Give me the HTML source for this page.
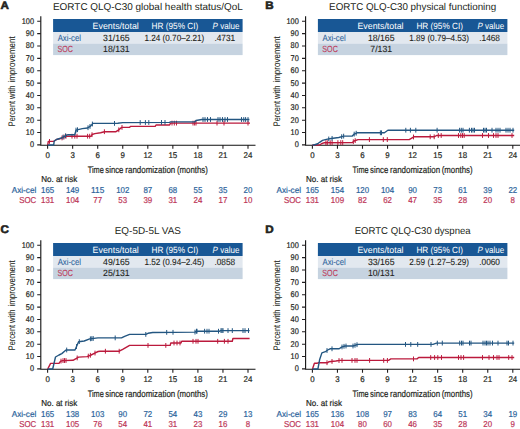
<!DOCTYPE html>
<html><head><meta charset="utf-8"><style>
html,body{margin:0;padding:0;background:#fff;width:520px;height:429px;overflow:hidden}
svg{display:block;font-family:"Liberation Sans",sans-serif;text-rendering:geometricPrecision}
</style></head><body>
<svg width="520" height="429" viewBox="0 0 520 429">
<rect width="520" height="429" fill="#fff"/>
<text x="0.40" y="9.30" font-size="11" fill="#231f20" stroke="#231f20" stroke-width="0.6" font-weight="bold" textLength="8.40" lengthAdjust="spacingAndGlyphs">A</text>
<text x="53.00" y="9.80" font-size="9.9" fill="#231f20" stroke="#231f20" stroke-width="0" font-weight="normal" textLength="189.70" lengthAdjust="spacingAndGlyphs">EORTC QLQ-C30 global health status/QoL</text>
<rect x="53.1" y="19.0" width="189.5" height="13.0" fill="#185795"/>
<rect x="53.1" y="32.0" width="189.5" height="11.6" fill="#e2e8ef"/>
<rect x="53.1" y="43.6" width="189.5" height="11.5" fill="#c6d3e0"/>
<text x="92.60" y="28.50" font-size="9" fill="#ffffff" stroke="#ffffff" stroke-width="0" font-weight="normal" textLength="46.20" lengthAdjust="spacingAndGlyphs">Events/total</text>
<text x="151.60" y="28.50" font-size="9" fill="#ffffff" stroke="#ffffff" stroke-width="0" font-weight="normal" textLength="46.60" lengthAdjust="spacingAndGlyphs">HR (95% CI)</text>
<text x="212.60" y="28.50" font-size="9" fill="#ffffff" textLength="26.8" lengthAdjust="spacingAndGlyphs"><tspan font-style="italic">P</tspan> value</text>
<text x="57.70" y="40.80" font-size="9" fill="#2e659c" stroke="#2e659c" stroke-width="0.1" font-weight="normal" textLength="23.30" lengthAdjust="spacingAndGlyphs">Axi-cel</text>
<text x="57.50" y="52.30" font-size="9" fill="#bd3658" stroke="#bd3658" stroke-width="0.1" font-weight="normal" textLength="15.50" lengthAdjust="spacingAndGlyphs">SOC</text>
<text x="103.10" y="40.80" font-size="9" fill="#231f20" stroke="#231f20" stroke-width="0.1" font-weight="normal" textLength="26.59" lengthAdjust="spacingAndGlyphs">31/165</text>
<text x="103.10" y="52.30" font-size="9" fill="#231f20" stroke="#231f20" stroke-width="0.1" font-weight="normal" textLength="26.59" lengthAdjust="spacingAndGlyphs">18/131</text>
<text x="144.51" y="40.80" font-size="9" fill="#231f20" stroke="#231f20" stroke-width="0.1" font-weight="normal" textLength="59.78" lengthAdjust="spacingAndGlyphs">1.24 (0.70–2.21)</text>
<text x="214.42" y="40.80" font-size="9" fill="#231f20" stroke="#231f20" stroke-width="0.1" font-weight="normal" textLength="20.77" lengthAdjust="spacingAndGlyphs">.4731</text>
<path d="M40.8 16.2V145.3H255.5" fill="none" stroke="#111" stroke-width="1.1"/>
<text x="29.90" y="147.30" font-size="8.3" fill="#231f20" stroke="#231f20" stroke-width="0.2" font-weight="normal" textLength="4.10" lengthAdjust="spacingAndGlyphs">0</text>
<text x="25.80" y="134.94" font-size="8.3" fill="#231f20" stroke="#231f20" stroke-width="0.2" font-weight="normal" textLength="8.20" lengthAdjust="spacingAndGlyphs">10</text>
<text x="25.80" y="122.58" font-size="8.3" fill="#231f20" stroke="#231f20" stroke-width="0.2" font-weight="normal" textLength="8.20" lengthAdjust="spacingAndGlyphs">20</text>
<text x="25.80" y="110.22" font-size="8.3" fill="#231f20" stroke="#231f20" stroke-width="0.2" font-weight="normal" textLength="8.20" lengthAdjust="spacingAndGlyphs">30</text>
<text x="25.80" y="97.86" font-size="8.3" fill="#231f20" stroke="#231f20" stroke-width="0.2" font-weight="normal" textLength="8.20" lengthAdjust="spacingAndGlyphs">40</text>
<text x="25.80" y="85.50" font-size="8.3" fill="#231f20" stroke="#231f20" stroke-width="0.2" font-weight="normal" textLength="8.20" lengthAdjust="spacingAndGlyphs">50</text>
<text x="25.80" y="73.14" font-size="8.3" fill="#231f20" stroke="#231f20" stroke-width="0.2" font-weight="normal" textLength="8.20" lengthAdjust="spacingAndGlyphs">60</text>
<text x="25.80" y="60.78" font-size="8.3" fill="#231f20" stroke="#231f20" stroke-width="0.2" font-weight="normal" textLength="8.20" lengthAdjust="spacingAndGlyphs">70</text>
<text x="25.80" y="48.42" font-size="8.3" fill="#231f20" stroke="#231f20" stroke-width="0.2" font-weight="normal" textLength="8.20" lengthAdjust="spacingAndGlyphs">80</text>
<text x="25.80" y="36.06" font-size="8.3" fill="#231f20" stroke="#231f20" stroke-width="0.2" font-weight="normal" textLength="8.20" lengthAdjust="spacingAndGlyphs">90</text>
<text x="21.70" y="23.70" font-size="8.3" fill="#231f20" stroke="#231f20" stroke-width="0.2" font-weight="normal" textLength="12.30" lengthAdjust="spacingAndGlyphs">100</text>
<text x="45.40" y="158.40" font-size="8.3" fill="#231f20" stroke="#231f20" stroke-width="0.2" font-weight="normal" textLength="4.40" lengthAdjust="spacingAndGlyphs">0</text>
<text x="70.45" y="158.40" font-size="8.3" fill="#231f20" stroke="#231f20" stroke-width="0.2" font-weight="normal" textLength="4.40" lengthAdjust="spacingAndGlyphs">3</text>
<text x="95.50" y="158.40" font-size="8.3" fill="#231f20" stroke="#231f20" stroke-width="0.2" font-weight="normal" textLength="4.40" lengthAdjust="spacingAndGlyphs">6</text>
<text x="120.55" y="158.40" font-size="8.3" fill="#231f20" stroke="#231f20" stroke-width="0.2" font-weight="normal" textLength="4.40" lengthAdjust="spacingAndGlyphs">9</text>
<text x="143.40" y="158.40" font-size="8.3" fill="#231f20" stroke="#231f20" stroke-width="0.2" font-weight="normal" textLength="8.80" lengthAdjust="spacingAndGlyphs">12</text>
<text x="168.45" y="158.40" font-size="8.3" fill="#231f20" stroke="#231f20" stroke-width="0.2" font-weight="normal" textLength="8.80" lengthAdjust="spacingAndGlyphs">15</text>
<text x="193.50" y="158.40" font-size="8.3" fill="#231f20" stroke="#231f20" stroke-width="0.2" font-weight="normal" textLength="8.80" lengthAdjust="spacingAndGlyphs">18</text>
<text x="218.55" y="158.40" font-size="8.3" fill="#231f20" stroke="#231f20" stroke-width="0.2" font-weight="normal" textLength="8.80" lengthAdjust="spacingAndGlyphs">21</text>
<text x="243.60" y="158.40" font-size="8.3" fill="#231f20" stroke="#231f20" stroke-width="0.2" font-weight="normal" textLength="8.80" lengthAdjust="spacingAndGlyphs">24</text>
<path d="M37.199999999999996 144.90H40.8 M37.199999999999996 132.54H40.8 M37.199999999999996 120.18H40.8 M37.199999999999996 107.82H40.8 M37.199999999999996 95.46H40.8 M37.199999999999996 83.10H40.8 M37.199999999999996 70.74H40.8 M37.199999999999996 58.38H40.8 M37.199999999999996 46.02H40.8 M37.199999999999996 33.66H40.8 M37.199999999999996 21.30H40.8 M47.60 144.9V148.8 M72.65 144.9V148.8 M97.70 144.9V148.8 M122.75 144.9V148.8 M147.80 144.9V148.8 M172.85 144.9V148.8 M197.90 144.9V148.8 M222.95 144.9V148.8 M248.00 144.9V148.8" fill="none" stroke="#231f20" stroke-width="1.1"/>
<text x="87.80" y="172.50" font-size="9.5" fill="#231f20" stroke="#231f20" stroke-width="0.2" font-weight="normal" textLength="16.00" lengthAdjust="spacingAndGlyphs">Time</text>
<text x="105.30" y="172.50" font-size="9.5" fill="#231f20" stroke="#231f20" stroke-width="0.2" font-weight="normal" textLength="18.10" lengthAdjust="spacingAndGlyphs">since</text>
<text x="125.30" y="172.50" font-size="9.5" fill="#231f20" stroke="#231f20" stroke-width="0.2" font-weight="normal" textLength="50.00" lengthAdjust="spacingAndGlyphs">randomization</text>
<text x="176.95" y="172.50" font-size="9.5" fill="#231f20" stroke="#231f20" stroke-width="0.2" font-weight="normal" textLength="30.85" lengthAdjust="spacingAndGlyphs">(months)</text>
<g transform="translate(14.90 0) rotate(-90)">
<text x="-126.20" y="0.00" font-size="9.5" fill="#231f20" stroke="#231f20" stroke-width="0.05" font-weight="normal" textLength="25.20" lengthAdjust="spacingAndGlyphs">Percent</text>
<text x="-98.90" y="0.00" font-size="9.5" fill="#231f20" stroke="#231f20" stroke-width="0.05" font-weight="normal" textLength="13.40" lengthAdjust="spacingAndGlyphs">with</text>
<text x="-82.60" y="0.00" font-size="9.5" fill="#231f20" stroke="#231f20" stroke-width="0.05" font-weight="normal" textLength="46.30" lengthAdjust="spacingAndGlyphs">improvement</text>
</g>
<text x="41.20" y="182.30" font-size="8.6" fill="#231f20" stroke="#231f20" stroke-width="0.2" font-weight="normal" textLength="36.10" lengthAdjust="spacingAndGlyphs">No. at risk</text>
<text x="11.70" y="192.80" font-size="8.6" fill="#2e659c" stroke="#2e659c" stroke-width="0.2" font-weight="normal" textLength="24.60" lengthAdjust="spacingAndGlyphs">Axi-cel</text>
<text x="19.20" y="203.00" font-size="8.6" fill="#bd3658" stroke="#bd3658" stroke-width="0.2" font-weight="normal" textLength="17.00" lengthAdjust="spacingAndGlyphs">SOC</text>
<text x="41.00" y="192.80" font-size="8.6" fill="#2e659c" stroke="#2e659c" stroke-width="0.2" font-weight="normal" textLength="13.20" lengthAdjust="spacingAndGlyphs">165</text>
<text x="41.00" y="203.00" font-size="8.6" fill="#bd3658" stroke="#bd3658" stroke-width="0.2" font-weight="normal" textLength="13.20" lengthAdjust="spacingAndGlyphs">131</text>
<text x="66.05" y="192.80" font-size="8.6" fill="#2e659c" stroke="#2e659c" stroke-width="0.2" font-weight="normal" textLength="13.20" lengthAdjust="spacingAndGlyphs">149</text>
<text x="66.05" y="203.00" font-size="8.6" fill="#bd3658" stroke="#bd3658" stroke-width="0.2" font-weight="normal" textLength="13.20" lengthAdjust="spacingAndGlyphs">104</text>
<text x="91.10" y="192.80" font-size="8.6" fill="#2e659c" stroke="#2e659c" stroke-width="0.2" font-weight="normal" textLength="13.20" lengthAdjust="spacingAndGlyphs">115</text>
<text x="93.30" y="203.00" font-size="8.6" fill="#bd3658" stroke="#bd3658" stroke-width="0.2" font-weight="normal" textLength="8.80" lengthAdjust="spacingAndGlyphs">77</text>
<text x="116.15" y="192.80" font-size="8.6" fill="#2e659c" stroke="#2e659c" stroke-width="0.2" font-weight="normal" textLength="13.20" lengthAdjust="spacingAndGlyphs">102</text>
<text x="118.35" y="203.00" font-size="8.6" fill="#bd3658" stroke="#bd3658" stroke-width="0.2" font-weight="normal" textLength="8.80" lengthAdjust="spacingAndGlyphs">53</text>
<text x="143.40" y="192.80" font-size="8.6" fill="#2e659c" stroke="#2e659c" stroke-width="0.2" font-weight="normal" textLength="8.80" lengthAdjust="spacingAndGlyphs">87</text>
<text x="143.40" y="203.00" font-size="8.6" fill="#bd3658" stroke="#bd3658" stroke-width="0.2" font-weight="normal" textLength="8.80" lengthAdjust="spacingAndGlyphs">39</text>
<text x="168.45" y="192.80" font-size="8.6" fill="#2e659c" stroke="#2e659c" stroke-width="0.2" font-weight="normal" textLength="8.80" lengthAdjust="spacingAndGlyphs">68</text>
<text x="168.45" y="203.00" font-size="8.6" fill="#bd3658" stroke="#bd3658" stroke-width="0.2" font-weight="normal" textLength="8.80" lengthAdjust="spacingAndGlyphs">31</text>
<text x="193.50" y="192.80" font-size="8.6" fill="#2e659c" stroke="#2e659c" stroke-width="0.2" font-weight="normal" textLength="8.80" lengthAdjust="spacingAndGlyphs">55</text>
<text x="193.50" y="203.00" font-size="8.6" fill="#bd3658" stroke="#bd3658" stroke-width="0.2" font-weight="normal" textLength="8.80" lengthAdjust="spacingAndGlyphs">24</text>
<text x="218.55" y="192.80" font-size="8.6" fill="#2e659c" stroke="#2e659c" stroke-width="0.2" font-weight="normal" textLength="8.80" lengthAdjust="spacingAndGlyphs">35</text>
<text x="218.55" y="203.00" font-size="8.6" fill="#bd3658" stroke="#bd3658" stroke-width="0.2" font-weight="normal" textLength="8.80" lengthAdjust="spacingAndGlyphs">17</text>
<text x="243.60" y="192.80" font-size="8.6" fill="#2e659c" stroke="#2e659c" stroke-width="0.2" font-weight="normal" textLength="8.80" lengthAdjust="spacingAndGlyphs">20</text>
<text x="243.60" y="203.00" font-size="8.6" fill="#bd3658" stroke="#bd3658" stroke-width="0.2" font-weight="normal" textLength="8.80" lengthAdjust="spacingAndGlyphs">10</text>
<path d="M47.70 145.00 L48.30 141.40 L53.70 141.40 L56.50 139.50 L60.40 138.60 L62.80 137.60 L65.70 136.20 L91.20 136.20 L92.10 134.50 L94.80 133.60 L100.60 132.70 L104.40 131.70 L116.00 131.70 L118.80 129.80 L121.70 127.40 L129.40 127.40 L130.40 126.40 L155.20 126.40 L156.00 125.00 L169.60 125.00 L170.50 123.10 L250.00 123.10" fill="none" stroke="#bb1a3c" stroke-width="1.4" stroke-linejoin="round"/>
<path d="M49.50 139.00V143.80 M62.00 135.53V140.33 M64.00 134.62V139.42 M66.00 133.80V138.60 M72.00 133.80V138.60 M74.80 133.80V138.60 M77.00 133.80V138.60 M87.60 133.80V138.60 M89.70 133.80V138.60 M92.00 132.29V137.09 M104.40 129.30V134.10 M118.80 127.40V132.20 M122.00 125.00V129.80 M172.00 120.70V125.50 M174.30 120.70V125.50 M176.50 120.70V125.50 M193.00 120.70V125.50 M194.60 120.70V125.50 M196.00 120.70V125.50 M217.00 120.70V125.50 M224.00 120.70V125.50 M248.00 120.70V125.50" fill="none" stroke="#bb1a3c" stroke-width="1.0"/>
<path d="M47.70 145.00 L53.70 145.00 L54.20 141.00 L56.50 139.50 L61.30 138.00 L65.70 135.70 L68.00 134.70 L74.80 134.70 L76.00 130.10 L82.30 128.60 L87.60 128.00 L90.80 125.90 L92.90 123.40 L115.00 123.40 L117.80 123.30 L122.70 122.60 L169.60 122.40 L170.50 121.90 L195.00 121.90 L196.00 120.50 L201.90 119.50 L249.40 119.50" fill="none" stroke="#235681" stroke-width="1.4" stroke-linejoin="round"/>
<path d="M63.00 134.71V139.51 M65.50 133.40V138.20 M76.00 127.70V132.50 M77.50 127.34V132.14 M88.00 125.34V130.14 M90.00 124.02V128.82 M92.40 121.60V126.40 M114.50 121.00V125.80 M140.20 120.13V124.93 M145.40 120.10V124.90 M148.80 120.09V124.89 M161.50 120.03V124.83 M165.00 120.02V124.82 M203.00 117.10V121.90 M205.00 117.10V121.90 M207.50 117.10V121.90 M210.50 117.10V121.90 M218.00 117.10V121.90 M220.00 117.10V121.90 M222.50 117.10V121.90 M225.00 117.10V121.90 M227.50 117.10V121.90 M241.50 117.10V121.90 M243.75 117.10V121.90 M245.60 117.10V121.90 M248.00 117.10V121.90" fill="none" stroke="#235681" stroke-width="1.0"/>
<text x="265.20" y="9.30" font-size="11" fill="#231f20" stroke="#231f20" stroke-width="0.6" font-weight="bold" textLength="8.40" lengthAdjust="spacingAndGlyphs">B</text>
<text x="329.10" y="9.80" font-size="9.9" fill="#231f20" stroke="#231f20" stroke-width="0" font-weight="normal" textLength="167.10" lengthAdjust="spacingAndGlyphs">EORTC QLQ-C30 physical functioning</text>
<rect x="317.90000000000003" y="19.0" width="189.5" height="13.0" fill="#185795"/>
<rect x="317.90000000000003" y="32.0" width="189.5" height="11.6" fill="#e2e8ef"/>
<rect x="317.90000000000003" y="43.6" width="189.5" height="11.5" fill="#c6d3e0"/>
<text x="357.40" y="28.50" font-size="9" fill="#ffffff" stroke="#ffffff" stroke-width="0" font-weight="normal" textLength="46.20" lengthAdjust="spacingAndGlyphs">Events/total</text>
<text x="416.40" y="28.50" font-size="9" fill="#ffffff" stroke="#ffffff" stroke-width="0" font-weight="normal" textLength="46.60" lengthAdjust="spacingAndGlyphs">HR (95% CI)</text>
<text x="477.40" y="28.50" font-size="9" fill="#ffffff" textLength="26.8" lengthAdjust="spacingAndGlyphs"><tspan font-style="italic">P</tspan> value</text>
<text x="322.50" y="40.80" font-size="9" fill="#2e659c" stroke="#2e659c" stroke-width="0.1" font-weight="normal" textLength="23.30" lengthAdjust="spacingAndGlyphs">Axi-cel</text>
<text x="322.30" y="52.30" font-size="9" fill="#bd3658" stroke="#bd3658" stroke-width="0.1" font-weight="normal" textLength="15.50" lengthAdjust="spacingAndGlyphs">SOC</text>
<text x="367.90" y="40.80" font-size="9" fill="#231f20" stroke="#231f20" stroke-width="0.1" font-weight="normal" textLength="26.59" lengthAdjust="spacingAndGlyphs">18/165</text>
<text x="370.32" y="52.30" font-size="9" fill="#231f20" stroke="#231f20" stroke-width="0.1" font-weight="normal" textLength="21.76" lengthAdjust="spacingAndGlyphs">7/131</text>
<text x="409.31" y="40.80" font-size="9" fill="#231f20" stroke="#231f20" stroke-width="0.1" font-weight="normal" textLength="59.78" lengthAdjust="spacingAndGlyphs">1.89 (0.79–4.53)</text>
<text x="479.22" y="40.80" font-size="9" fill="#231f20" stroke="#231f20" stroke-width="0.1" font-weight="normal" textLength="20.77" lengthAdjust="spacingAndGlyphs">.1468</text>
<path d="M305.6 16.2V145.3H520.3" fill="none" stroke="#111" stroke-width="1.1"/>
<text x="294.70" y="147.30" font-size="8.3" fill="#231f20" stroke="#231f20" stroke-width="0.2" font-weight="normal" textLength="4.10" lengthAdjust="spacingAndGlyphs">0</text>
<text x="290.60" y="134.94" font-size="8.3" fill="#231f20" stroke="#231f20" stroke-width="0.2" font-weight="normal" textLength="8.20" lengthAdjust="spacingAndGlyphs">10</text>
<text x="290.60" y="122.58" font-size="8.3" fill="#231f20" stroke="#231f20" stroke-width="0.2" font-weight="normal" textLength="8.20" lengthAdjust="spacingAndGlyphs">20</text>
<text x="290.60" y="110.22" font-size="8.3" fill="#231f20" stroke="#231f20" stroke-width="0.2" font-weight="normal" textLength="8.20" lengthAdjust="spacingAndGlyphs">30</text>
<text x="290.60" y="97.86" font-size="8.3" fill="#231f20" stroke="#231f20" stroke-width="0.2" font-weight="normal" textLength="8.20" lengthAdjust="spacingAndGlyphs">40</text>
<text x="290.60" y="85.50" font-size="8.3" fill="#231f20" stroke="#231f20" stroke-width="0.2" font-weight="normal" textLength="8.20" lengthAdjust="spacingAndGlyphs">50</text>
<text x="290.60" y="73.14" font-size="8.3" fill="#231f20" stroke="#231f20" stroke-width="0.2" font-weight="normal" textLength="8.20" lengthAdjust="spacingAndGlyphs">60</text>
<text x="290.60" y="60.78" font-size="8.3" fill="#231f20" stroke="#231f20" stroke-width="0.2" font-weight="normal" textLength="8.20" lengthAdjust="spacingAndGlyphs">70</text>
<text x="290.60" y="48.42" font-size="8.3" fill="#231f20" stroke="#231f20" stroke-width="0.2" font-weight="normal" textLength="8.20" lengthAdjust="spacingAndGlyphs">80</text>
<text x="290.60" y="36.06" font-size="8.3" fill="#231f20" stroke="#231f20" stroke-width="0.2" font-weight="normal" textLength="8.20" lengthAdjust="spacingAndGlyphs">90</text>
<text x="286.50" y="23.70" font-size="8.3" fill="#231f20" stroke="#231f20" stroke-width="0.2" font-weight="normal" textLength="12.30" lengthAdjust="spacingAndGlyphs">100</text>
<text x="310.20" y="158.40" font-size="8.3" fill="#231f20" stroke="#231f20" stroke-width="0.2" font-weight="normal" textLength="4.40" lengthAdjust="spacingAndGlyphs">0</text>
<text x="335.25" y="158.40" font-size="8.3" fill="#231f20" stroke="#231f20" stroke-width="0.2" font-weight="normal" textLength="4.40" lengthAdjust="spacingAndGlyphs">3</text>
<text x="360.30" y="158.40" font-size="8.3" fill="#231f20" stroke="#231f20" stroke-width="0.2" font-weight="normal" textLength="4.40" lengthAdjust="spacingAndGlyphs">6</text>
<text x="385.35" y="158.40" font-size="8.3" fill="#231f20" stroke="#231f20" stroke-width="0.2" font-weight="normal" textLength="4.40" lengthAdjust="spacingAndGlyphs">9</text>
<text x="408.20" y="158.40" font-size="8.3" fill="#231f20" stroke="#231f20" stroke-width="0.2" font-weight="normal" textLength="8.80" lengthAdjust="spacingAndGlyphs">12</text>
<text x="433.25" y="158.40" font-size="8.3" fill="#231f20" stroke="#231f20" stroke-width="0.2" font-weight="normal" textLength="8.80" lengthAdjust="spacingAndGlyphs">15</text>
<text x="458.30" y="158.40" font-size="8.3" fill="#231f20" stroke="#231f20" stroke-width="0.2" font-weight="normal" textLength="8.80" lengthAdjust="spacingAndGlyphs">18</text>
<text x="483.35" y="158.40" font-size="8.3" fill="#231f20" stroke="#231f20" stroke-width="0.2" font-weight="normal" textLength="8.80" lengthAdjust="spacingAndGlyphs">21</text>
<text x="508.40" y="158.40" font-size="8.3" fill="#231f20" stroke="#231f20" stroke-width="0.2" font-weight="normal" textLength="8.80" lengthAdjust="spacingAndGlyphs">24</text>
<path d="M302.0 144.90H305.6 M302.0 132.54H305.6 M302.0 120.18H305.6 M302.0 107.82H305.6 M302.0 95.46H305.6 M302.0 83.10H305.6 M302.0 70.74H305.6 M302.0 58.38H305.6 M302.0 46.02H305.6 M302.0 33.66H305.6 M302.0 21.30H305.6 M312.40 144.9V148.8 M337.45 144.9V148.8 M362.50 144.9V148.8 M387.55 144.9V148.8 M412.60 144.9V148.8 M437.65 144.9V148.8 M462.70 144.9V148.8 M487.75 144.9V148.8 M512.80 144.9V148.8" fill="none" stroke="#231f20" stroke-width="1.1"/>
<text x="352.60" y="172.50" font-size="9.5" fill="#231f20" stroke="#231f20" stroke-width="0.2" font-weight="normal" textLength="16.00" lengthAdjust="spacingAndGlyphs">Time</text>
<text x="370.10" y="172.50" font-size="9.5" fill="#231f20" stroke="#231f20" stroke-width="0.2" font-weight="normal" textLength="18.10" lengthAdjust="spacingAndGlyphs">since</text>
<text x="390.10" y="172.50" font-size="9.5" fill="#231f20" stroke="#231f20" stroke-width="0.2" font-weight="normal" textLength="50.00" lengthAdjust="spacingAndGlyphs">randomization</text>
<text x="441.75" y="172.50" font-size="9.5" fill="#231f20" stroke="#231f20" stroke-width="0.2" font-weight="normal" textLength="30.85" lengthAdjust="spacingAndGlyphs">(months)</text>
<g transform="translate(279.70 0) rotate(-90)">
<text x="-126.20" y="0.00" font-size="9.5" fill="#231f20" stroke="#231f20" stroke-width="0.05" font-weight="normal" textLength="25.20" lengthAdjust="spacingAndGlyphs">Percent</text>
<text x="-98.90" y="0.00" font-size="9.5" fill="#231f20" stroke="#231f20" stroke-width="0.05" font-weight="normal" textLength="13.40" lengthAdjust="spacingAndGlyphs">with</text>
<text x="-82.60" y="0.00" font-size="9.5" fill="#231f20" stroke="#231f20" stroke-width="0.05" font-weight="normal" textLength="46.30" lengthAdjust="spacingAndGlyphs">improvement</text>
</g>
<text x="306.00" y="182.30" font-size="8.6" fill="#231f20" stroke="#231f20" stroke-width="0.2" font-weight="normal" textLength="36.10" lengthAdjust="spacingAndGlyphs">No. at risk</text>
<text x="276.50" y="192.80" font-size="8.6" fill="#2e659c" stroke="#2e659c" stroke-width="0.2" font-weight="normal" textLength="24.60" lengthAdjust="spacingAndGlyphs">Axi-cel</text>
<text x="284.00" y="203.00" font-size="8.6" fill="#bd3658" stroke="#bd3658" stroke-width="0.2" font-weight="normal" textLength="17.00" lengthAdjust="spacingAndGlyphs">SOC</text>
<text x="305.80" y="192.80" font-size="8.6" fill="#2e659c" stroke="#2e659c" stroke-width="0.2" font-weight="normal" textLength="13.20" lengthAdjust="spacingAndGlyphs">165</text>
<text x="305.80" y="203.00" font-size="8.6" fill="#bd3658" stroke="#bd3658" stroke-width="0.2" font-weight="normal" textLength="13.20" lengthAdjust="spacingAndGlyphs">131</text>
<text x="330.85" y="192.80" font-size="8.6" fill="#2e659c" stroke="#2e659c" stroke-width="0.2" font-weight="normal" textLength="13.20" lengthAdjust="spacingAndGlyphs">154</text>
<text x="330.85" y="203.00" font-size="8.6" fill="#bd3658" stroke="#bd3658" stroke-width="0.2" font-weight="normal" textLength="13.20" lengthAdjust="spacingAndGlyphs">109</text>
<text x="355.90" y="192.80" font-size="8.6" fill="#2e659c" stroke="#2e659c" stroke-width="0.2" font-weight="normal" textLength="13.20" lengthAdjust="spacingAndGlyphs">120</text>
<text x="358.10" y="203.00" font-size="8.6" fill="#bd3658" stroke="#bd3658" stroke-width="0.2" font-weight="normal" textLength="8.80" lengthAdjust="spacingAndGlyphs">82</text>
<text x="380.95" y="192.80" font-size="8.6" fill="#2e659c" stroke="#2e659c" stroke-width="0.2" font-weight="normal" textLength="13.20" lengthAdjust="spacingAndGlyphs">104</text>
<text x="383.15" y="203.00" font-size="8.6" fill="#bd3658" stroke="#bd3658" stroke-width="0.2" font-weight="normal" textLength="8.80" lengthAdjust="spacingAndGlyphs">62</text>
<text x="408.20" y="192.80" font-size="8.6" fill="#2e659c" stroke="#2e659c" stroke-width="0.2" font-weight="normal" textLength="8.80" lengthAdjust="spacingAndGlyphs">90</text>
<text x="408.20" y="203.00" font-size="8.6" fill="#bd3658" stroke="#bd3658" stroke-width="0.2" font-weight="normal" textLength="8.80" lengthAdjust="spacingAndGlyphs">47</text>
<text x="433.25" y="192.80" font-size="8.6" fill="#2e659c" stroke="#2e659c" stroke-width="0.2" font-weight="normal" textLength="8.80" lengthAdjust="spacingAndGlyphs">73</text>
<text x="433.25" y="203.00" font-size="8.6" fill="#bd3658" stroke="#bd3658" stroke-width="0.2" font-weight="normal" textLength="8.80" lengthAdjust="spacingAndGlyphs">35</text>
<text x="458.30" y="192.80" font-size="8.6" fill="#2e659c" stroke="#2e659c" stroke-width="0.2" font-weight="normal" textLength="8.80" lengthAdjust="spacingAndGlyphs">61</text>
<text x="458.30" y="203.00" font-size="8.6" fill="#bd3658" stroke="#bd3658" stroke-width="0.2" font-weight="normal" textLength="8.80" lengthAdjust="spacingAndGlyphs">28</text>
<text x="483.35" y="192.80" font-size="8.6" fill="#2e659c" stroke="#2e659c" stroke-width="0.2" font-weight="normal" textLength="8.80" lengthAdjust="spacingAndGlyphs">39</text>
<text x="483.35" y="203.00" font-size="8.6" fill="#bd3658" stroke="#bd3658" stroke-width="0.2" font-weight="normal" textLength="8.80" lengthAdjust="spacingAndGlyphs">20</text>
<text x="508.40" y="192.80" font-size="8.6" fill="#2e659c" stroke="#2e659c" stroke-width="0.2" font-weight="normal" textLength="8.80" lengthAdjust="spacingAndGlyphs">22</text>
<text x="510.60" y="203.00" font-size="8.6" fill="#bd3658" stroke="#bd3658" stroke-width="0.2" font-weight="normal" textLength="4.40" lengthAdjust="spacingAndGlyphs">8</text>
<path d="M312.50 145.00 L319.60 145.00 L321.50 143.75 L324.40 142.70 L352.30 142.50 L354.20 141.00 L358.00 139.60 L409.20 139.60 L413.80 136.80 L434.20 136.80 L436.50 135.50 L514.20 135.50" fill="none" stroke="#bb1a3c" stroke-width="1.4" stroke-linejoin="round"/>
<path d="M325.90 140.29V145.09 M327.30 140.28V145.08 M330.20 140.26V145.06 M332.10 140.24V145.04 M337.90 140.20V145.00 M340.80 140.18V144.98 M342.70 140.17V144.97 M353.30 139.31V144.11 M355.20 138.23V143.03 M369.40 137.20V142.00 M383.30 137.20V142.00 M387.30 137.20V142.00 M413.50 134.58V139.38 M430.20 134.40V139.20 M434.20 134.40V139.20 M438.30 133.10V137.90 M441.20 133.10V137.90 M458.50 133.10V137.90 M460.80 133.10V137.90 M462.50 133.10V137.90 M464.20 133.10V137.90 M482.50 133.10V137.90 M488.50 133.10V137.90 M493.50 133.10V137.90 M496.00 133.10V137.90 M498.00 133.10V137.90 M512.00 133.10V137.90" fill="none" stroke="#bb1a3c" stroke-width="1.0"/>
<path d="M312.50 145.00 L314.00 145.00 L317.70 143.75 L319.60 142.30 L322.50 140.40 L326.30 139.40 L331.20 138.50 L335.00 138.00 L338.80 137.50 L343.70 136.10 L352.30 136.10 L354.20 134.10 L357.10 132.80 L384.40 132.80 L387.90 130.20 L514.20 130.20" fill="none" stroke="#235681" stroke-width="1.4" stroke-linejoin="round"/>
<path d="M328.75 136.55V141.35 M332.10 135.98V140.78 M341.70 134.27V139.07 M343.65 133.71V138.51 M354.20 131.70V136.50 M356.20 130.80V135.60 M380.40 130.40V135.20 M381.50 130.40V135.20 M405.80 127.80V132.60 M410.40 127.80V132.60 M415.80 127.80V132.60 M437.10 127.80V132.60 M459.60 127.80V132.60 M461.30 127.80V132.60 M463.00 127.80V132.60 M469.40 127.80V132.60 M471.50 127.80V132.60 M473.00 127.80V132.60 M474.50 127.80V132.60 M483.50 127.80V132.60 M485.00 127.80V132.60 M486.50 127.80V132.60 M492.00 127.80V132.60 M496.00 127.80V132.60 M498.00 127.80V132.60 M500.00 127.80V132.60 M506.00 127.80V132.60 M508.00 127.80V132.60 M510.00 127.80V132.60 M513.00 127.80V132.60" fill="none" stroke="#235681" stroke-width="1.0"/>
<text x="0.40" y="233.30" font-size="11" fill="#231f20" stroke="#231f20" stroke-width="0.6" font-weight="bold" textLength="8.40" lengthAdjust="spacingAndGlyphs">C</text>
<text x="114.74" y="233.80" font-size="9.9" fill="#231f20" stroke="#231f20" stroke-width="0" font-weight="normal" textLength="66.22" lengthAdjust="spacingAndGlyphs">EQ-5D-5L VAS</text>
<rect x="53.1" y="243.0" width="189.5" height="13.0" fill="#185795"/>
<rect x="53.1" y="256.0" width="189.5" height="11.6" fill="#e2e8ef"/>
<rect x="53.1" y="267.6" width="189.5" height="11.5" fill="#c6d3e0"/>
<text x="92.60" y="252.50" font-size="9" fill="#ffffff" stroke="#ffffff" stroke-width="0" font-weight="normal" textLength="46.20" lengthAdjust="spacingAndGlyphs">Events/total</text>
<text x="151.60" y="252.50" font-size="9" fill="#ffffff" stroke="#ffffff" stroke-width="0" font-weight="normal" textLength="46.60" lengthAdjust="spacingAndGlyphs">HR (95% CI)</text>
<text x="212.60" y="252.50" font-size="9" fill="#ffffff" textLength="26.8" lengthAdjust="spacingAndGlyphs"><tspan font-style="italic">P</tspan> value</text>
<text x="57.70" y="264.80" font-size="9" fill="#2e659c" stroke="#2e659c" stroke-width="0.1" font-weight="normal" textLength="23.30" lengthAdjust="spacingAndGlyphs">Axi-cel</text>
<text x="57.50" y="276.30" font-size="9" fill="#bd3658" stroke="#bd3658" stroke-width="0.1" font-weight="normal" textLength="15.50" lengthAdjust="spacingAndGlyphs">SOC</text>
<text x="103.10" y="264.80" font-size="9" fill="#231f20" stroke="#231f20" stroke-width="0.1" font-weight="normal" textLength="26.59" lengthAdjust="spacingAndGlyphs">49/165</text>
<text x="103.10" y="276.30" font-size="9" fill="#231f20" stroke="#231f20" stroke-width="0.1" font-weight="normal" textLength="26.59" lengthAdjust="spacingAndGlyphs">25/131</text>
<text x="144.51" y="264.80" font-size="9" fill="#231f20" stroke="#231f20" stroke-width="0.1" font-weight="normal" textLength="59.78" lengthAdjust="spacingAndGlyphs">1.52 (0.94–2.45)</text>
<text x="214.42" y="264.80" font-size="9" fill="#231f20" stroke="#231f20" stroke-width="0.1" font-weight="normal" textLength="20.77" lengthAdjust="spacingAndGlyphs">.0858</text>
<path d="M40.8 240.2V369.3H255.5" fill="none" stroke="#111" stroke-width="1.1"/>
<text x="29.90" y="371.30" font-size="8.3" fill="#231f20" stroke="#231f20" stroke-width="0.2" font-weight="normal" textLength="4.10" lengthAdjust="spacingAndGlyphs">0</text>
<text x="25.80" y="358.94" font-size="8.3" fill="#231f20" stroke="#231f20" stroke-width="0.2" font-weight="normal" textLength="8.20" lengthAdjust="spacingAndGlyphs">10</text>
<text x="25.80" y="346.58" font-size="8.3" fill="#231f20" stroke="#231f20" stroke-width="0.2" font-weight="normal" textLength="8.20" lengthAdjust="spacingAndGlyphs">20</text>
<text x="25.80" y="334.22" font-size="8.3" fill="#231f20" stroke="#231f20" stroke-width="0.2" font-weight="normal" textLength="8.20" lengthAdjust="spacingAndGlyphs">30</text>
<text x="25.80" y="321.86" font-size="8.3" fill="#231f20" stroke="#231f20" stroke-width="0.2" font-weight="normal" textLength="8.20" lengthAdjust="spacingAndGlyphs">40</text>
<text x="25.80" y="309.50" font-size="8.3" fill="#231f20" stroke="#231f20" stroke-width="0.2" font-weight="normal" textLength="8.20" lengthAdjust="spacingAndGlyphs">50</text>
<text x="25.80" y="297.14" font-size="8.3" fill="#231f20" stroke="#231f20" stroke-width="0.2" font-weight="normal" textLength="8.20" lengthAdjust="spacingAndGlyphs">60</text>
<text x="25.80" y="284.78" font-size="8.3" fill="#231f20" stroke="#231f20" stroke-width="0.2" font-weight="normal" textLength="8.20" lengthAdjust="spacingAndGlyphs">70</text>
<text x="25.80" y="272.42" font-size="8.3" fill="#231f20" stroke="#231f20" stroke-width="0.2" font-weight="normal" textLength="8.20" lengthAdjust="spacingAndGlyphs">80</text>
<text x="25.80" y="260.06" font-size="8.3" fill="#231f20" stroke="#231f20" stroke-width="0.2" font-weight="normal" textLength="8.20" lengthAdjust="spacingAndGlyphs">90</text>
<text x="21.70" y="247.70" font-size="8.3" fill="#231f20" stroke="#231f20" stroke-width="0.2" font-weight="normal" textLength="12.30" lengthAdjust="spacingAndGlyphs">100</text>
<text x="45.40" y="382.40" font-size="8.3" fill="#231f20" stroke="#231f20" stroke-width="0.2" font-weight="normal" textLength="4.40" lengthAdjust="spacingAndGlyphs">0</text>
<text x="70.45" y="382.40" font-size="8.3" fill="#231f20" stroke="#231f20" stroke-width="0.2" font-weight="normal" textLength="4.40" lengthAdjust="spacingAndGlyphs">3</text>
<text x="95.50" y="382.40" font-size="8.3" fill="#231f20" stroke="#231f20" stroke-width="0.2" font-weight="normal" textLength="4.40" lengthAdjust="spacingAndGlyphs">6</text>
<text x="120.55" y="382.40" font-size="8.3" fill="#231f20" stroke="#231f20" stroke-width="0.2" font-weight="normal" textLength="4.40" lengthAdjust="spacingAndGlyphs">9</text>
<text x="143.40" y="382.40" font-size="8.3" fill="#231f20" stroke="#231f20" stroke-width="0.2" font-weight="normal" textLength="8.80" lengthAdjust="spacingAndGlyphs">12</text>
<text x="168.45" y="382.40" font-size="8.3" fill="#231f20" stroke="#231f20" stroke-width="0.2" font-weight="normal" textLength="8.80" lengthAdjust="spacingAndGlyphs">15</text>
<text x="193.50" y="382.40" font-size="8.3" fill="#231f20" stroke="#231f20" stroke-width="0.2" font-weight="normal" textLength="8.80" lengthAdjust="spacingAndGlyphs">18</text>
<text x="218.55" y="382.40" font-size="8.3" fill="#231f20" stroke="#231f20" stroke-width="0.2" font-weight="normal" textLength="8.80" lengthAdjust="spacingAndGlyphs">21</text>
<text x="243.60" y="382.40" font-size="8.3" fill="#231f20" stroke="#231f20" stroke-width="0.2" font-weight="normal" textLength="8.80" lengthAdjust="spacingAndGlyphs">24</text>
<path d="M37.199999999999996 368.90H40.8 M37.199999999999996 356.54H40.8 M37.199999999999996 344.18H40.8 M37.199999999999996 331.82H40.8 M37.199999999999996 319.46H40.8 M37.199999999999996 307.10H40.8 M37.199999999999996 294.74H40.8 M37.199999999999996 282.38H40.8 M37.199999999999996 270.02H40.8 M37.199999999999996 257.66H40.8 M37.199999999999996 245.30H40.8 M47.60 368.9V372.8 M72.65 368.9V372.8 M97.70 368.9V372.8 M122.75 368.9V372.8 M147.80 368.9V372.8 M172.85 368.9V372.8 M197.90 368.9V372.8 M222.95 368.9V372.8 M248.00 368.9V372.8" fill="none" stroke="#231f20" stroke-width="1.1"/>
<text x="87.80" y="396.50" font-size="9.5" fill="#231f20" stroke="#231f20" stroke-width="0.2" font-weight="normal" textLength="16.00" lengthAdjust="spacingAndGlyphs">Time</text>
<text x="105.30" y="396.50" font-size="9.5" fill="#231f20" stroke="#231f20" stroke-width="0.2" font-weight="normal" textLength="18.10" lengthAdjust="spacingAndGlyphs">since</text>
<text x="125.30" y="396.50" font-size="9.5" fill="#231f20" stroke="#231f20" stroke-width="0.2" font-weight="normal" textLength="50.00" lengthAdjust="spacingAndGlyphs">randomization</text>
<text x="176.95" y="396.50" font-size="9.5" fill="#231f20" stroke="#231f20" stroke-width="0.2" font-weight="normal" textLength="30.85" lengthAdjust="spacingAndGlyphs">(months)</text>
<g transform="translate(14.90 0) rotate(-90)">
<text x="-350.20" y="0.00" font-size="9.5" fill="#231f20" stroke="#231f20" stroke-width="0.05" font-weight="normal" textLength="25.20" lengthAdjust="spacingAndGlyphs">Percent</text>
<text x="-322.90" y="0.00" font-size="9.5" fill="#231f20" stroke="#231f20" stroke-width="0.05" font-weight="normal" textLength="13.40" lengthAdjust="spacingAndGlyphs">with</text>
<text x="-306.60" y="0.00" font-size="9.5" fill="#231f20" stroke="#231f20" stroke-width="0.05" font-weight="normal" textLength="46.30" lengthAdjust="spacingAndGlyphs">improvement</text>
</g>
<text x="41.20" y="406.30" font-size="8.6" fill="#231f20" stroke="#231f20" stroke-width="0.2" font-weight="normal" textLength="36.10" lengthAdjust="spacingAndGlyphs">No. at risk</text>
<text x="11.70" y="416.80" font-size="8.6" fill="#2e659c" stroke="#2e659c" stroke-width="0.2" font-weight="normal" textLength="24.60" lengthAdjust="spacingAndGlyphs">Axi-cel</text>
<text x="19.20" y="427.00" font-size="8.6" fill="#bd3658" stroke="#bd3658" stroke-width="0.2" font-weight="normal" textLength="17.00" lengthAdjust="spacingAndGlyphs">SOC</text>
<text x="41.00" y="416.80" font-size="8.6" fill="#2e659c" stroke="#2e659c" stroke-width="0.2" font-weight="normal" textLength="13.20" lengthAdjust="spacingAndGlyphs">165</text>
<text x="41.00" y="427.00" font-size="8.6" fill="#bd3658" stroke="#bd3658" stroke-width="0.2" font-weight="normal" textLength="13.20" lengthAdjust="spacingAndGlyphs">131</text>
<text x="66.05" y="416.80" font-size="8.6" fill="#2e659c" stroke="#2e659c" stroke-width="0.2" font-weight="normal" textLength="13.20" lengthAdjust="spacingAndGlyphs">138</text>
<text x="66.05" y="427.00" font-size="8.6" fill="#bd3658" stroke="#bd3658" stroke-width="0.2" font-weight="normal" textLength="13.20" lengthAdjust="spacingAndGlyphs">105</text>
<text x="91.10" y="416.80" font-size="8.6" fill="#2e659c" stroke="#2e659c" stroke-width="0.2" font-weight="normal" textLength="13.20" lengthAdjust="spacingAndGlyphs">103</text>
<text x="93.30" y="427.00" font-size="8.6" fill="#bd3658" stroke="#bd3658" stroke-width="0.2" font-weight="normal" textLength="8.80" lengthAdjust="spacingAndGlyphs">76</text>
<text x="118.35" y="416.80" font-size="8.6" fill="#2e659c" stroke="#2e659c" stroke-width="0.2" font-weight="normal" textLength="8.80" lengthAdjust="spacingAndGlyphs">90</text>
<text x="118.35" y="427.00" font-size="8.6" fill="#bd3658" stroke="#bd3658" stroke-width="0.2" font-weight="normal" textLength="8.80" lengthAdjust="spacingAndGlyphs">54</text>
<text x="143.40" y="416.80" font-size="8.6" fill="#2e659c" stroke="#2e659c" stroke-width="0.2" font-weight="normal" textLength="8.80" lengthAdjust="spacingAndGlyphs">72</text>
<text x="143.40" y="427.00" font-size="8.6" fill="#bd3658" stroke="#bd3658" stroke-width="0.2" font-weight="normal" textLength="8.80" lengthAdjust="spacingAndGlyphs">41</text>
<text x="168.45" y="416.80" font-size="8.6" fill="#2e659c" stroke="#2e659c" stroke-width="0.2" font-weight="normal" textLength="8.80" lengthAdjust="spacingAndGlyphs">54</text>
<text x="168.45" y="427.00" font-size="8.6" fill="#bd3658" stroke="#bd3658" stroke-width="0.2" font-weight="normal" textLength="8.80" lengthAdjust="spacingAndGlyphs">31</text>
<text x="193.50" y="416.80" font-size="8.6" fill="#2e659c" stroke="#2e659c" stroke-width="0.2" font-weight="normal" textLength="8.80" lengthAdjust="spacingAndGlyphs">43</text>
<text x="193.50" y="427.00" font-size="8.6" fill="#bd3658" stroke="#bd3658" stroke-width="0.2" font-weight="normal" textLength="8.80" lengthAdjust="spacingAndGlyphs">23</text>
<text x="218.55" y="416.80" font-size="8.6" fill="#2e659c" stroke="#2e659c" stroke-width="0.2" font-weight="normal" textLength="8.80" lengthAdjust="spacingAndGlyphs">29</text>
<text x="218.55" y="427.00" font-size="8.6" fill="#bd3658" stroke="#bd3658" stroke-width="0.2" font-weight="normal" textLength="8.80" lengthAdjust="spacingAndGlyphs">16</text>
<text x="243.60" y="416.80" font-size="8.6" fill="#2e659c" stroke="#2e659c" stroke-width="0.2" font-weight="normal" textLength="8.80" lengthAdjust="spacingAndGlyphs">13</text>
<text x="245.80" y="427.00" font-size="8.6" fill="#bd3658" stroke="#bd3658" stroke-width="0.2" font-weight="normal" textLength="4.40" lengthAdjust="spacingAndGlyphs">8</text>
<path d="M47.70 369.00 L50.60 363.40 L59.00 363.40 L60.40 361.30 L62.50 360.60 L73.00 360.30 L78.60 357.10 L87.00 356.60 L91.10 355.00 L95.30 352.90 L98.10 351.50 L100.00 351.20 L119.20 351.20 L122.70 349.40 L129.60 345.40 L170.20 345.40 L170.80 343.00 L181.00 343.00 L181.70 341.30 L232.30 341.30 L232.90 338.50 L249.60 338.50" fill="none" stroke="#bb1a3c" stroke-width="1.4" stroke-linejoin="round"/>
<path d="M61.00 358.70V363.50 M63.00 358.19V362.99 M64.50 358.14V362.94 M66.00 358.10V362.90 M77.20 355.50V360.30 M88.30 353.69V358.49 M90.40 352.87V357.67 M95.00 350.65V355.45 M105.40 348.80V353.60 M119.20 348.80V353.60 M148.00 343.00V347.80 M165.80 343.00V347.80 M174.00 340.60V345.40 M177.00 340.60V345.40 M180.00 340.60V345.40 M193.00 338.90V343.70 M196.00 338.90V343.70 M198.00 338.90V343.70 M217.70 338.90V343.70 M224.40 338.90V343.70 M228.00 338.90V343.70" fill="none" stroke="#bb1a3c" stroke-width="1.0"/>
<path d="M47.70 369.00 L52.70 369.00 L55.50 357.00 L59.00 355.00 L61.80 353.60 L66.00 350.00 L75.00 350.00 L78.60 341.70 L84.20 341.00 L89.70 338.90 L98.00 337.90 L121.50 337.90 L124.60 336.30 L129.60 334.40 L145.80 334.40 L148.00 333.30 L152.70 332.50 L195.00 332.10 L196.20 331.20 L219.60 331.20 L220.80 330.60 L249.60 330.60" fill="none" stroke="#235681" stroke-width="1.4" stroke-linejoin="round"/>
<path d="M66.70 347.60V352.40 M76.50 344.14V348.94 M79.30 339.21V344.01 M90.40 336.42V341.22 M91.80 336.25V341.05 M93.20 336.08V340.88 M115.20 335.50V340.30 M145.80 332.00V336.80 M166.70 329.97V334.77 M173.00 329.91V334.71 M195.00 329.70V334.50 M196.50 328.80V333.60 M197.00 328.80V333.60 M204.60 328.80V333.60 M207.00 328.80V333.60 M209.00 328.80V333.60 M218.50 328.80V333.60 M221.00 328.20V333.00 M222.00 328.20V333.00 M223.00 328.20V333.00 M228.00 328.20V333.00 M232.30 328.20V333.00 M243.00 328.20V333.00 M245.00 328.20V333.00 M248.50 328.20V333.00" fill="none" stroke="#235681" stroke-width="1.0"/>
<text x="265.20" y="233.30" font-size="11" fill="#231f20" stroke="#231f20" stroke-width="0.6" font-weight="bold" textLength="8.40" lengthAdjust="spacingAndGlyphs">D</text>
<text x="354.65" y="233.80" font-size="9.9" fill="#231f20" stroke="#231f20" stroke-width="0" font-weight="normal" textLength="116.00" lengthAdjust="spacingAndGlyphs">EORTC QLQ-C30 dyspnea</text>
<rect x="317.90000000000003" y="243.0" width="189.5" height="13.0" fill="#185795"/>
<rect x="317.90000000000003" y="256.0" width="189.5" height="11.6" fill="#e2e8ef"/>
<rect x="317.90000000000003" y="267.6" width="189.5" height="11.5" fill="#c6d3e0"/>
<text x="357.40" y="252.50" font-size="9" fill="#ffffff" stroke="#ffffff" stroke-width="0" font-weight="normal" textLength="46.20" lengthAdjust="spacingAndGlyphs">Events/total</text>
<text x="416.40" y="252.50" font-size="9" fill="#ffffff" stroke="#ffffff" stroke-width="0" font-weight="normal" textLength="46.60" lengthAdjust="spacingAndGlyphs">HR (95% CI)</text>
<text x="477.40" y="252.50" font-size="9" fill="#ffffff" textLength="26.8" lengthAdjust="spacingAndGlyphs"><tspan font-style="italic">P</tspan> value</text>
<text x="322.50" y="264.80" font-size="9" fill="#2e659c" stroke="#2e659c" stroke-width="0.1" font-weight="normal" textLength="23.30" lengthAdjust="spacingAndGlyphs">Axi-cel</text>
<text x="322.30" y="276.30" font-size="9" fill="#bd3658" stroke="#bd3658" stroke-width="0.1" font-weight="normal" textLength="15.50" lengthAdjust="spacingAndGlyphs">SOC</text>
<text x="367.90" y="264.80" font-size="9" fill="#231f20" stroke="#231f20" stroke-width="0.1" font-weight="normal" textLength="26.59" lengthAdjust="spacingAndGlyphs">33/165</text>
<text x="367.90" y="276.30" font-size="9" fill="#231f20" stroke="#231f20" stroke-width="0.1" font-weight="normal" textLength="26.59" lengthAdjust="spacingAndGlyphs">10/131</text>
<text x="409.31" y="264.80" font-size="9" fill="#231f20" stroke="#231f20" stroke-width="0.1" font-weight="normal" textLength="59.78" lengthAdjust="spacingAndGlyphs">2.59 (1.27–5.29)</text>
<text x="479.22" y="264.80" font-size="9" fill="#231f20" stroke="#231f20" stroke-width="0.1" font-weight="normal" textLength="20.77" lengthAdjust="spacingAndGlyphs">.0060</text>
<path d="M305.6 240.2V369.3H520.3" fill="none" stroke="#111" stroke-width="1.1"/>
<text x="294.70" y="371.30" font-size="8.3" fill="#231f20" stroke="#231f20" stroke-width="0.2" font-weight="normal" textLength="4.10" lengthAdjust="spacingAndGlyphs">0</text>
<text x="290.60" y="358.94" font-size="8.3" fill="#231f20" stroke="#231f20" stroke-width="0.2" font-weight="normal" textLength="8.20" lengthAdjust="spacingAndGlyphs">10</text>
<text x="290.60" y="346.58" font-size="8.3" fill="#231f20" stroke="#231f20" stroke-width="0.2" font-weight="normal" textLength="8.20" lengthAdjust="spacingAndGlyphs">20</text>
<text x="290.60" y="334.22" font-size="8.3" fill="#231f20" stroke="#231f20" stroke-width="0.2" font-weight="normal" textLength="8.20" lengthAdjust="spacingAndGlyphs">30</text>
<text x="290.60" y="321.86" font-size="8.3" fill="#231f20" stroke="#231f20" stroke-width="0.2" font-weight="normal" textLength="8.20" lengthAdjust="spacingAndGlyphs">40</text>
<text x="290.60" y="309.50" font-size="8.3" fill="#231f20" stroke="#231f20" stroke-width="0.2" font-weight="normal" textLength="8.20" lengthAdjust="spacingAndGlyphs">50</text>
<text x="290.60" y="297.14" font-size="8.3" fill="#231f20" stroke="#231f20" stroke-width="0.2" font-weight="normal" textLength="8.20" lengthAdjust="spacingAndGlyphs">60</text>
<text x="290.60" y="284.78" font-size="8.3" fill="#231f20" stroke="#231f20" stroke-width="0.2" font-weight="normal" textLength="8.20" lengthAdjust="spacingAndGlyphs">70</text>
<text x="290.60" y="272.42" font-size="8.3" fill="#231f20" stroke="#231f20" stroke-width="0.2" font-weight="normal" textLength="8.20" lengthAdjust="spacingAndGlyphs">80</text>
<text x="290.60" y="260.06" font-size="8.3" fill="#231f20" stroke="#231f20" stroke-width="0.2" font-weight="normal" textLength="8.20" lengthAdjust="spacingAndGlyphs">90</text>
<text x="286.50" y="247.70" font-size="8.3" fill="#231f20" stroke="#231f20" stroke-width="0.2" font-weight="normal" textLength="12.30" lengthAdjust="spacingAndGlyphs">100</text>
<text x="310.20" y="382.40" font-size="8.3" fill="#231f20" stroke="#231f20" stroke-width="0.2" font-weight="normal" textLength="4.40" lengthAdjust="spacingAndGlyphs">0</text>
<text x="335.25" y="382.40" font-size="8.3" fill="#231f20" stroke="#231f20" stroke-width="0.2" font-weight="normal" textLength="4.40" lengthAdjust="spacingAndGlyphs">3</text>
<text x="360.30" y="382.40" font-size="8.3" fill="#231f20" stroke="#231f20" stroke-width="0.2" font-weight="normal" textLength="4.40" lengthAdjust="spacingAndGlyphs">6</text>
<text x="385.35" y="382.40" font-size="8.3" fill="#231f20" stroke="#231f20" stroke-width="0.2" font-weight="normal" textLength="4.40" lengthAdjust="spacingAndGlyphs">9</text>
<text x="408.20" y="382.40" font-size="8.3" fill="#231f20" stroke="#231f20" stroke-width="0.2" font-weight="normal" textLength="8.80" lengthAdjust="spacingAndGlyphs">12</text>
<text x="433.25" y="382.40" font-size="8.3" fill="#231f20" stroke="#231f20" stroke-width="0.2" font-weight="normal" textLength="8.80" lengthAdjust="spacingAndGlyphs">15</text>
<text x="458.30" y="382.40" font-size="8.3" fill="#231f20" stroke="#231f20" stroke-width="0.2" font-weight="normal" textLength="8.80" lengthAdjust="spacingAndGlyphs">18</text>
<text x="483.35" y="382.40" font-size="8.3" fill="#231f20" stroke="#231f20" stroke-width="0.2" font-weight="normal" textLength="8.80" lengthAdjust="spacingAndGlyphs">21</text>
<text x="508.40" y="382.40" font-size="8.3" fill="#231f20" stroke="#231f20" stroke-width="0.2" font-weight="normal" textLength="8.80" lengthAdjust="spacingAndGlyphs">24</text>
<path d="M302.0 368.90H305.6 M302.0 356.54H305.6 M302.0 344.18H305.6 M302.0 331.82H305.6 M302.0 319.46H305.6 M302.0 307.10H305.6 M302.0 294.74H305.6 M302.0 282.38H305.6 M302.0 270.02H305.6 M302.0 257.66H305.6 M302.0 245.30H305.6 M312.40 368.9V372.8 M337.45 368.9V372.8 M362.50 368.9V372.8 M387.55 368.9V372.8 M412.60 368.9V372.8 M437.65 368.9V372.8 M462.70 368.9V372.8 M487.75 368.9V372.8 M512.80 368.9V372.8" fill="none" stroke="#231f20" stroke-width="1.1"/>
<text x="352.60" y="396.50" font-size="9.5" fill="#231f20" stroke="#231f20" stroke-width="0.2" font-weight="normal" textLength="16.00" lengthAdjust="spacingAndGlyphs">Time</text>
<text x="370.10" y="396.50" font-size="9.5" fill="#231f20" stroke="#231f20" stroke-width="0.2" font-weight="normal" textLength="18.10" lengthAdjust="spacingAndGlyphs">since</text>
<text x="390.10" y="396.50" font-size="9.5" fill="#231f20" stroke="#231f20" stroke-width="0.2" font-weight="normal" textLength="50.00" lengthAdjust="spacingAndGlyphs">randomization</text>
<text x="441.75" y="396.50" font-size="9.5" fill="#231f20" stroke="#231f20" stroke-width="0.2" font-weight="normal" textLength="30.85" lengthAdjust="spacingAndGlyphs">(months)</text>
<g transform="translate(279.70 0) rotate(-90)">
<text x="-350.20" y="0.00" font-size="9.5" fill="#231f20" stroke="#231f20" stroke-width="0.05" font-weight="normal" textLength="25.20" lengthAdjust="spacingAndGlyphs">Percent</text>
<text x="-322.90" y="0.00" font-size="9.5" fill="#231f20" stroke="#231f20" stroke-width="0.05" font-weight="normal" textLength="13.40" lengthAdjust="spacingAndGlyphs">with</text>
<text x="-306.60" y="0.00" font-size="9.5" fill="#231f20" stroke="#231f20" stroke-width="0.05" font-weight="normal" textLength="46.30" lengthAdjust="spacingAndGlyphs">improvement</text>
</g>
<text x="306.00" y="406.30" font-size="8.6" fill="#231f20" stroke="#231f20" stroke-width="0.2" font-weight="normal" textLength="36.10" lengthAdjust="spacingAndGlyphs">No. at risk</text>
<text x="276.50" y="416.80" font-size="8.6" fill="#2e659c" stroke="#2e659c" stroke-width="0.2" font-weight="normal" textLength="24.60" lengthAdjust="spacingAndGlyphs">Axi-cel</text>
<text x="284.00" y="427.00" font-size="8.6" fill="#bd3658" stroke="#bd3658" stroke-width="0.2" font-weight="normal" textLength="17.00" lengthAdjust="spacingAndGlyphs">SOC</text>
<text x="305.80" y="416.80" font-size="8.6" fill="#2e659c" stroke="#2e659c" stroke-width="0.2" font-weight="normal" textLength="13.20" lengthAdjust="spacingAndGlyphs">165</text>
<text x="305.80" y="427.00" font-size="8.6" fill="#bd3658" stroke="#bd3658" stroke-width="0.2" font-weight="normal" textLength="13.20" lengthAdjust="spacingAndGlyphs">131</text>
<text x="330.85" y="416.80" font-size="8.6" fill="#2e659c" stroke="#2e659c" stroke-width="0.2" font-weight="normal" textLength="13.20" lengthAdjust="spacingAndGlyphs">136</text>
<text x="330.85" y="427.00" font-size="8.6" fill="#bd3658" stroke="#bd3658" stroke-width="0.2" font-weight="normal" textLength="13.20" lengthAdjust="spacingAndGlyphs">104</text>
<text x="355.90" y="416.80" font-size="8.6" fill="#2e659c" stroke="#2e659c" stroke-width="0.2" font-weight="normal" textLength="13.20" lengthAdjust="spacingAndGlyphs">108</text>
<text x="358.10" y="427.00" font-size="8.6" fill="#bd3658" stroke="#bd3658" stroke-width="0.2" font-weight="normal" textLength="8.80" lengthAdjust="spacingAndGlyphs">80</text>
<text x="383.15" y="416.80" font-size="8.6" fill="#2e659c" stroke="#2e659c" stroke-width="0.2" font-weight="normal" textLength="8.80" lengthAdjust="spacingAndGlyphs">97</text>
<text x="383.15" y="427.00" font-size="8.6" fill="#bd3658" stroke="#bd3658" stroke-width="0.2" font-weight="normal" textLength="8.80" lengthAdjust="spacingAndGlyphs">60</text>
<text x="408.20" y="416.80" font-size="8.6" fill="#2e659c" stroke="#2e659c" stroke-width="0.2" font-weight="normal" textLength="8.80" lengthAdjust="spacingAndGlyphs">83</text>
<text x="408.20" y="427.00" font-size="8.6" fill="#bd3658" stroke="#bd3658" stroke-width="0.2" font-weight="normal" textLength="8.80" lengthAdjust="spacingAndGlyphs">46</text>
<text x="433.25" y="416.80" font-size="8.6" fill="#2e659c" stroke="#2e659c" stroke-width="0.2" font-weight="normal" textLength="8.80" lengthAdjust="spacingAndGlyphs">64</text>
<text x="433.25" y="427.00" font-size="8.6" fill="#bd3658" stroke="#bd3658" stroke-width="0.2" font-weight="normal" textLength="8.80" lengthAdjust="spacingAndGlyphs">35</text>
<text x="458.30" y="416.80" font-size="8.6" fill="#2e659c" stroke="#2e659c" stroke-width="0.2" font-weight="normal" textLength="8.80" lengthAdjust="spacingAndGlyphs">51</text>
<text x="458.30" y="427.00" font-size="8.6" fill="#bd3658" stroke="#bd3658" stroke-width="0.2" font-weight="normal" textLength="8.80" lengthAdjust="spacingAndGlyphs">28</text>
<text x="483.35" y="416.80" font-size="8.6" fill="#2e659c" stroke="#2e659c" stroke-width="0.2" font-weight="normal" textLength="8.80" lengthAdjust="spacingAndGlyphs">34</text>
<text x="483.35" y="427.00" font-size="8.6" fill="#bd3658" stroke="#bd3658" stroke-width="0.2" font-weight="normal" textLength="8.80" lengthAdjust="spacingAndGlyphs">20</text>
<text x="508.40" y="416.80" font-size="8.6" fill="#2e659c" stroke="#2e659c" stroke-width="0.2" font-weight="normal" textLength="8.80" lengthAdjust="spacingAndGlyphs">19</text>
<text x="510.60" y="427.00" font-size="8.6" fill="#bd3658" stroke="#bd3658" stroke-width="0.2" font-weight="normal" textLength="4.40" lengthAdjust="spacingAndGlyphs">9</text>
<path d="M312.50 369.00 L314.40 363.30 L317.00 363.30 L318.50 362.70 L327.70 362.70 L328.80 361.80 L335.80 361.00 L340.00 360.40 L388.50 360.40 L390.80 358.90 L417.00 358.90 L418.70 357.50 L514.20 357.50" fill="none" stroke="#bb1a3c" stroke-width="1.4" stroke-linejoin="round"/>
<path d="M327.00 360.30V365.10 M332.00 359.03V363.83 M339.00 358.14V362.94 M342.00 358.00V362.80 M352.00 358.00V362.80 M355.00 358.00V362.80 M357.00 358.00V362.80 M369.60 358.00V362.80 M383.70 358.00V362.80 M387.40 358.00V362.80 M413.50 356.50V361.30 M430.70 355.10V359.90 M434.60 355.10V359.90 M437.80 355.10V359.90 M441.50 355.10V359.90 M458.50 355.10V359.90 M461.00 355.10V359.90 M463.60 355.10V359.90 M482.50 355.10V359.90 M489.00 355.10V359.90 M493.50 355.10V359.90 M497.00 355.10V359.90 M499.00 355.10V359.90 M508.70 355.10V359.90 M512.00 355.10V359.90" fill="none" stroke="#bb1a3c" stroke-width="1.0"/>
<path d="M312.50 369.00 L317.90 369.00 L319.60 359.80 L321.90 352.90 L325.40 351.70 L327.70 350.00 L330.00 348.80 L339.20 348.80 L341.50 347.10 L345.00 346.00 L353.00 346.00 L356.50 344.80 L358.50 344.40 L433.00 344.40 L436.50 343.10 L514.20 343.10" fill="none" stroke="#235681" stroke-width="1.4" stroke-linejoin="round"/>
<path d="M327.00 348.12V352.92 M332.00 346.40V351.20 M342.00 344.54V349.34 M344.00 343.91V348.71 M346.00 343.60V348.40 M353.00 343.60V348.40 M355.00 342.91V347.71 M357.00 342.30V347.10 M405.50 342.00V346.80 M410.80 342.00V346.80 M417.70 342.00V346.80 M431.00 342.00V346.80 M437.30 340.70V345.50 M442.30 340.70V345.50 M459.70 340.70V345.50 M461.50 340.70V345.50 M463.00 340.70V345.50 M469.50 340.70V345.50 M471.00 340.70V345.50 M483.00 340.70V345.50 M485.00 340.70V345.50 M486.50 340.70V345.50 M488.00 340.70V345.50 M490.00 340.70V345.50 M492.50 340.70V345.50 M498.00 340.70V345.50 M507.00 340.70V345.50 M508.50 340.70V345.50 M513.00 340.70V345.50" fill="none" stroke="#235681" stroke-width="1.0"/>
</svg></body></html>
